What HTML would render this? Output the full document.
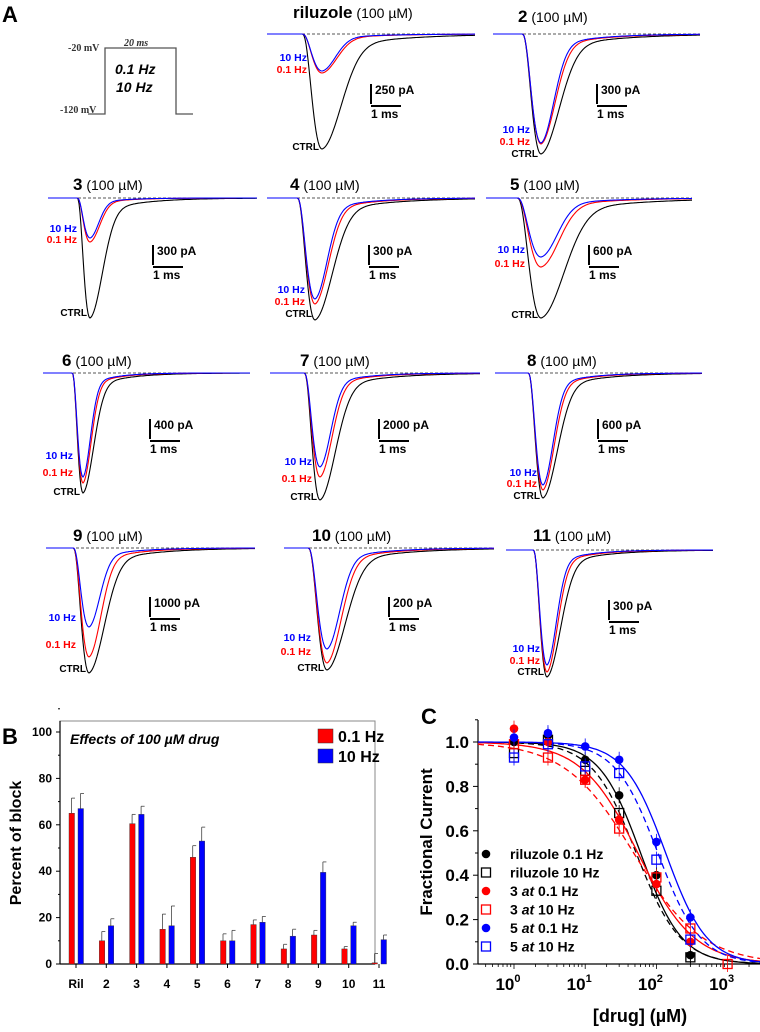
<!DOCTYPE html>
<html><head><meta charset="utf-8"><style>
html,body{margin:0;padding:0;background:#fff}
svg{display:block;font-family:"Liberation Sans",Arial,sans-serif}
</style></head><body>
<svg id="fig" width="760" height="1032" viewBox="0 0 760 1032" xmlns="http://www.w3.org/2000/svg">
<g id="pa">
<text x="2" y="22" font-size="22" font-weight="bold">A</text>
<g>
<polyline points="88,114 105,114 105,48 176,48 176,114 193,114" fill="none" stroke="#555" stroke-width="1.3"/>
<text x="68" y="51" font-size="10" font-family="Liberation Serif,serif" font-weight="bold" fill="#333">-20 mV</text>
<text x="60" y="113" font-size="10" font-family="Liberation Serif,serif" font-weight="bold" fill="#333">-120 mV</text>
<text x="124" y="46" font-size="10" font-family="Liberation Serif,serif" font-style="italic" font-weight="bold" fill="#333">20 ms</text>
<text x="115" y="74" font-size="14" font-style="italic" font-weight="bold">0.1 Hz</text>
<text x="116" y="92" font-size="14" font-style="italic" font-weight="bold">10 Hz</text>
</g>
</g>
<g id="pb"></g>
<g id="pc"></g>
</svg>
<script>
// ---------- Panel A trace data ----------
const traceNames = ["riluzole","2","3","4","5","6","7","8","9","10","11"];
const scaleLabels = ["250 pA","300 pA","300 pA","300 pA","600 pA","400 pA","2000 pA","600 pA","1000 pA","200 pA","300 pA"];
const ctrlPeakDepth = [115,120,120,122,120,120,127,125,125,122,127];
const redPeakDepth  = [39,110,44,106,69,110,104,117,109,115,122];
const bluePeakDepth = [37,109,40,101,59,104,94,112,79,101,115];
// layout (positions only)
const L = [
 {x0:267,x1:475,base:34,on:302,pk:322,tx:293,ty:18,sb:[371,84],lab:[307,61,73,150]},
 {x0:493,x1:700,base:34,on:522,pk:541,tx:518,ty:22,sb:[597,84],lab:[530,133,145,157]},
 {x0:48,x1:257,base:198,on:77,pk:90,tx:73,ty:190,sb:[153,245],lab:[77,232,243,316]},
 {x0:267,x1:475,base:198,on:297,pk:315,tx:290,ty:190,sb:[369,245],lab:[305,293,305,317]},
 {x0:486,x1:692,base:198,on:517,pk:541,tx:510,ty:190,sb:[589,245],lab:[525,253,267,318]},
 {x0:43,x1:250,base:373,on:72,pk:83,tx:62,ty:366,sb:[150,419],lab:[73,459,476,495]},
 {x0:270,x1:480,base:373,on:304,pk:320,tx:300,ty:366,sb:[379,419],lab:[312,465,482,500]},
 {x0:495,x1:702,base:373,on:528,pk:543,tx:527,ty:366,sb:[598,419],lab:[537,476,487,499]},
 {x0:46,x1:255,base:548,on:73,pk:89,tx:73,ty:541,sb:[150,597],lab:[76,621,648,672]},
 {x0:284,x1:494,base:548,on:308,pk:327,tx:312,ty:541,sb:[389,597],lab:[311,641,655,671]},
 {x0:506,x1:713,base:550,on:533,pk:547,tx:533,ty:541,sb:[609,600],lab:[540,652,664,675]}
];
const NS="http://www.w3.org/2000/svg";
function mk(tag,attrs,parent){const e=document.createElementNS(NS,tag);for(const k in attrs)e.setAttribute(k,attrs[k]);parent.appendChild(e);return e;}
function shape(s,tau){ if(s<=0) return 0; if(s<=1) return Math.pow(s,3)*Math.exp(3*(1-s));
 const d=s-1; return 0.85*Math.exp(-Math.pow(d/tau,2))+0.15*Math.exp(-d/(2.2*tau)); }
const pa=document.getElementById('pa');
traceNames.forEach((nm,i)=>{
 const l=L[i];
 const g=mk('g',{},pa);
 
 
 const t=mk('text',{x:l.tx,y:l.ty,'font-size':17,'font-weight':'bold'},g);
 t.textContent=nm;
 const t2=mk('tspan',{'font-weight':'normal','font-size':14},t); t2.textContent=' (100 µM)';
 mk('line',{x1:l.x0,y1:l.base,x2:l.x1,y2:l.base,stroke:'#555','stroke-dasharray':'3,2','stroke-width':1},g);
 const w=l.pk-l.on;
 const sets=[[ctrlPeakDepth[i],'#000',1.35],[redPeakDepth[i],'#f00',1.05],[bluePeakDepth[i],'#00f',0.95]];
 sets.forEach(([dep,col,tau])=>{
   let p=''; for(let x=l.x0;x<=l.x1;x+=1){const y=l.base+dep*shape((x-l.on)/w,tau); p+=(x===l.x0?'M':'L')+x+','+y.toFixed(1);}
   const pth=mk('path',{d:p,fill:'none',stroke:col,'stroke-width':1.1},g);
   
   
 });
 const [sx,sy]=l.sb;
 mk('line',{x1:sx,y1:sy,x2:sx,y2:sy+20,stroke:'#000','stroke-width':2},g);
 mk('line',{x1:sx,y1:sy+22,x2:sx+30,y2:sy+22,stroke:'#000','stroke-width':2},g);
 const st=mk('text',{x:sx+4,y:sy+10,'font-size':12,'font-weight':'bold'},g); st.textContent=scaleLabels[i];
 const sm=mk('text',{x:sx,y:sy+34,'font-size':12,'font-weight':'bold'},g); sm.textContent='1 ms';
 const [lx,ly1,ly2,ly3]=l.lab;
 const a=mk('text',{x:lx,y:ly1,'font-size':10.5,'font-weight':'bold',fill:'#00f','text-anchor':'end'},g); a.textContent='10 Hz';
 const b=mk('text',{x:lx,y:ly2,'font-size':10.5,'font-weight':'bold',fill:'#f00','text-anchor':'end'},g); b.textContent='0.1 Hz';
 const c=mk('text',{x:l.pk-3,y:ly3,'font-size':10,'font-weight':'bold',fill:'#000','text-anchor':'end'},g); c.textContent='CTRL';
});
</script>
<script>
// ---------- Panel B data ----------
const bCats = ["Ril","2","3","4","5","6","7","8","9","10","11"];
const bRed  = [65,10,60.5,15,46,10,17,6.5,12.5,6.5,0.5];
const bBlue = [67,16.5,64.5,16.5,53,10,18,12,39.5,16.5,10.5];
const bRedErr  = [6.5,4,4,6.5,5,3,2,2,2,1,4];
const bBlueErr = [6.5,3,3.5,8.5,6,4.5,2.5,3,4.5,1.5,2];
const bTicks = [0,20,40,60,80,100];
(function(){
 const NS="http://www.w3.org/2000/svg";
 function mk(tag,attrs,parent){const e=document.createElementNS(NS,tag);for(const k in attrs)e.setAttribute(k,attrs[k]);parent.appendChild(e);return e;}
 const g=document.getElementById('pb');
 const X0=60,X1=375,Ytop=721,Y0=964;
 const ys=v=>Y0-v*2.32;
 const xc=i=>76+i*30.3;
 const lb=mk('text',{x:2,y:744,'font-size':22,'font-weight':'bold'},g); lb.textContent='B';
  
 const fr=mk('rect',{x:X0,y:Ytop,width:X1-X0,height:Y0-Ytop,fill:'none',stroke:'#888','stroke-width':1},g);
  
 mk('line',{x1:X0,y1:Ytop,x2:X0,y2:Y0,stroke:'#000','stroke-width':1.2},g);
 mk('line',{x1:X0,y1:Y0,x2:X1,y2:Y0,stroke:'#000','stroke-width':1.2},g);
 bTicks.forEach(v=>{
  mk('line',{x1:X0-4,y1:ys(v),x2:X0,y2:ys(v),stroke:'#000'},g);
  mk('line',{x1:X0-2,y1:ys(v+10),x2:X0,y2:ys(v+10),stroke:'#000'},g);
  const t=mk('text',{x:X0-8,y:ys(v)+4,'font-size':12,'font-weight':'bold','text-anchor':'end'},g); t.textContent=v;
   
 });
 bCats.forEach((c,i)=>{
  const x=xc(i);
  mk('line',{x1:x,y1:Y0,x2:x,y2:Y0+4,stroke:'#000'},g);
  const t=mk('text',{x:x,y:988,'font-size':12,'font-weight':'bold','text-anchor':'middle'},g); t.textContent=c;
   
  [[bRed[i],bRedErr[i],'#f00',x-7],[bBlue[i],bBlueErr[i],'#00f',x+2]].forEach(([v,e,col,bx])=>{
    mk('line',{x1:bx+2.5,y1:ys(v),x2:bx+2.5,y2:ys(v+e),stroke:'#444','stroke-width':0.8},g);
    mk('line',{x1:bx+2.5,y1:ys(v+e),x2:bx+6,y2:ys(v+e),stroke:'#444','stroke-width':0.8},g);
    const r=mk('rect',{x:bx,y:ys(v),width:5.5,height:Y0-ys(v),fill:col,stroke:'#333','stroke-width':0.4},g);
     
  });
 });
 const tt=mk('text',{x:70,y:744,'font-size':14,'font-weight':'bold','font-style':'italic'},g); tt.textContent='Effects of 100 µM drug';
  
 [['0.1 Hz','#f00',730],['10 Hz','#00f',750]].forEach(([s,col,y])=>{
  const r=mk('rect',{x:318,y:y-1,width:15,height:14,fill:col,stroke:'#333','stroke-width':0.5},g);
   
  const t=mk('text',{x:338,y:y+12,'font-size':16,'font-weight':'bold'},g); t.textContent=s;
   
 });
 const yl=mk('text',{x:0,y:0,'font-size':16,'font-weight':'bold','text-anchor':'middle',transform:'translate(21,843) rotate(-90)'},g); yl.textContent='Percent of block';
  
})();
</script>
<script>
// ---------- Panel C data ----------
const cConc = [1,3,10,30,100,300,1000];
const ril01  = [1.00,1.03,0.92,0.76,0.40,0.04,null];
const ril10  = [0.95,1.01,0.87,0.68,0.33,0.03,null];
const c3at01 = [1.06,1.00,0.83,0.65,0.36,0.10,null];
const c3at10 = [0.99,0.93,0.83,0.61,0.39,0.16,0.00];
const c5at01 = [1.02,1.04,0.98,0.92,0.55,0.21,null];
const c5at10 = [0.93,0.99,0.89,0.86,0.47,0.11,null];
const fitIC50 = [60,52,55,48,135,105];
const fitHill = [1.5,1.4,1.1,0.9,1.5,1.45];
const cYTicks = [0,0.2,0.4,0.6,0.8,1.0];
const cXTicks = [0,1,2,3];
const cNames = ["riluzole 0.1 Hz","riluzole 10 Hz","3 at 0.1 Hz","3 at 10 Hz","5 at 0.1 Hz","5 at 10 Hz"];
(function(){
 const NS="http://www.w3.org/2000/svg";
 function mk(tag,attrs,parent){const e=document.createElementNS(NS,tag);for(const k in attrs)e.setAttribute(k,attrs[k]);parent.appendChild(e);return e;}
 const g=document.getElementById('pc');
 const xs=c=>514+Math.log10(c)*71.2;
 const ys=v=>964-v*222;
 const XL=478,XR=760;
 const lb=mk('text',{x:421,y:724,'font-size':22,'font-weight':'bold'},g); lb.textContent='C';
  
 mk('line',{x1:XL,y1:720,x2:XL,y2:964,stroke:'#000','stroke-width':1.2},g);
 mk('line',{x1:XL,y1:964,x2:XR,y2:964,stroke:'#000','stroke-width':1.2},g);
 cYTicks.forEach(v=>{
  mk('line',{x1:XL-5,y1:ys(v),x2:XL,y2:ys(v),stroke:'#000'},g);
  mk('line',{x1:XL-3,y1:ys(v+0.1),x2:XL,y2:ys(v+0.1),stroke:'#000'},g);
  const t=mk('text',{x:XL-9,y:ys(v)+6,'font-size':17,'font-weight':'bold','text-anchor':'end'},g); t.textContent=v.toFixed(1);
   
 });
 for(let d=-1;d<=3;d++){for(let m=1;m<10;m++){const c=m*Math.pow(10,d);const x=xs(c);if(x<XL||x>XR)continue;
   mk('line',{x1:x,y1:964,x2:x,y2:964+(m===1?5:3),stroke:'#000','stroke-width':0.8},g);}}
 cXTicks.forEach(e=>{
  const t=mk('text',{x:xs(Math.pow(10,e))-6,y:990,'font-size':17,'font-weight':'bold','text-anchor':'middle'},g); t.textContent='10';
  const s=mk('tspan',{'font-size':11,dy:-8},t); s.textContent=e;
   
 });
 const xl=mk('text',{x:640,y:1022,'font-size':18,'font-weight':'bold','text-anchor':'middle'},g); xl.textContent='[drug] (µM)';
  
 const yl=mk('text',{x:0,y:0,'font-size':17,'font-weight':'bold','text-anchor':'middle',transform:'translate(432,842) rotate(-90)'},g); yl.textContent='Fractional Current';
  
 const series=[ril01,ril10,c3at01,c3at10,c5at01,c5at10];
 const cols=['#000','#000','#f00','#f00','#00f','#00f'];
 series.forEach((arr,k)=>{
  let p='';for(let x=XL;x<=XR;x+=2){const c=Math.pow(10,(x-514)/71.2);const v=1/(1+Math.pow(c/fitIC50[k],fitHill[k]));p+=(x===XL?'M':'L')+x+','+ys(v).toFixed(1);}
  const fl=mk('path',{d:p,fill:'none',stroke:cols[k],'stroke-width':1.3,'stroke-dasharray':(k%2?'6,4':'none')},g);
   
 });
 series.forEach((arr,k)=>{
  arr.forEach((v,i)=>{ if(v===null) return;
   const x=xs(cConc[i]),y=ys(v);
   mk('line',{x1:x,y1:y-8,x2:x,y2:y+8,stroke:cols[k],'stroke-width':0.8},g);
   let m;
   if(k%2===0) m=mk('circle',{cx:x,cy:y,r:4.3,fill:cols[k]},g);
   else m=mk('rect',{x:x-4.5,y:y-4.5,width:9,height:9,fill:'none',stroke:cols[k],'stroke-width':1.3},g);
    
  });
 });
 cNames.forEach((nm,k)=>{
  const y=854+k*18.5;
  let m;
  if(k%2===0) m=mk('circle',{cx:486,cy:y,r:4.3,fill:cols[k]},g);
  else m=mk('rect',{x:481.5,y:y-4.5,width:9,height:9,fill:'none',stroke:cols[k],'stroke-width':1.3},g);
   
  const parts=nm.split(' at ');
  const t=mk('text',{x:510,y:y+5,'font-size':14,'font-weight':'bold'},g);
  if(parts.length===2){t.textContent=parts[0]+' ';const it=mk('tspan',{'font-style':'italic'},t);it.textContent='at';const r=mk('tspan',{},t);r.textContent=' '+parts[1];}
  else t.textContent=nm;
   
 });
})();
</script>
</body></html>
